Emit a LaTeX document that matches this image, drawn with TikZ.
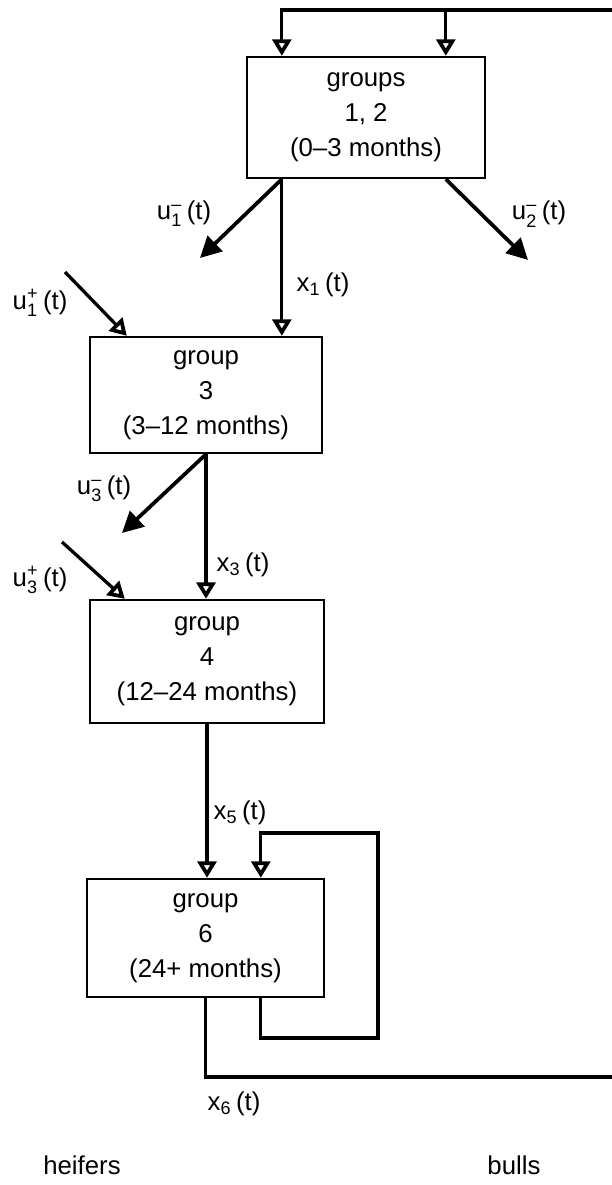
\documentclass[tikz,border=0pt]{standalone}
\usepackage{amsmath}
\usepackage{fontspec}
\setmainfont{Liberation Sans}
\usetikzlibrary{arrows.meta}
\usetikzlibrary{calc}
\usetikzlibrary{positioning}
\tikzstyle{block}    = [rectangle, draw, line width=1pt, align=center, inner sep=0pt, font=\fontsize{11}{15}\selectfont]
\tikzstyle{line}     = [draw, line width=1.4pt, -{Triangle[open, length=7pt, width=8pt, line width=1.6pt]}]
\tikzstyle{loss}     = [draw, line width=1.6pt, -{Triangle[length=9pt, width=9pt]}]
\tikzstyle{flow}     = [draw, line width=1.4pt]
\tikzstyle{lab}      = [inner sep=0pt, font=\fontsize{11}{13}\selectfont]
\newcommand{\ulab}[2]{u$_{\text{#1}}^{\text{#2}}$\,(t)}
\newcommand{\xlab}[1]{x$_{\text{#1}}$\,(t)}

\begin{document}
\begin{tikzpicture}[x=0.015cm, y=-0.015cm]
        \useasboundingbox (0,0) rectangle (612,1185);
        % age groups
        \node [block, minimum width=3.57cm, minimum height=1.815cm] (g12) at (366,117.5) {groups\\1, 2\\(0--3 months)};
        \node [block, minimum width=3.48cm, minimum height=1.74cm] (g3) at (206,395) {group\\3\\(3--12 months)};
        \node [block, minimum width=3.51cm, minimum height=1.845cm] (g4) at (207,661.5) {group\\4\\(12--24 months)};
        \node [block, minimum width=3.555cm, minimum height=1.77cm] (g6) at (205.5,938) {group\\6\\(24+ months)};
        % free ends
        \coordinate (rtop) at (612,10);
        \coordinate (rbot) at (612,1077);
        \coordinate (u1m) at (200,258);
        \coordinate (u2m) at (528,260);
        \coordinate (u1p) at (65,272);
        \coordinate (u3m) at (122,533);
        \coordinate (u3p) at (62,542);
        \coordinate (x1s) at ($(g12.south west)+(36,0)$);
        \coordinate (u2s) at ($(g12.south west)+(200,0)$);
        \coordinate (lp1) at (378,1038);
        \coordinate (lp2) at (378,833);
        % bulls back into groups 1, 2
        \path [line] (rtop) -| ($(g12.north west)+(36,0)$);
        \path [line] (rtop) -| ($(g12.north west)+(200,0)$);
        % flows
        \path [loss] (x1s) -- (u1m);
        \path [line] (x1s) -- (x1s |- g3.north);
        \path [loss] (u2s) -- (u2m);
        \path [line] (u1p) -- ($(g3.north west)+(38,0)$);
        \path [loss] (g3.south) -- (u3m);
        \path [line] (g3.south) -- (g3.south |- g4.north);
        \path [line] (u3p) -- ($(g4.north west)+(36,0)$);
        \path [line] (g4.south) -- (g4.south |- g6.north);
        \path [line] ($(g6.south west)+(175,0)$) |- (lp1) -- (lp2) -| ($(g6.north west)+(175,0)$);
        \path [flow] (g6.south) |- (rbot);
        % labels
        \node [lab] (l1) at (184,214) {\ulab{1}{--}};
        \node [lab] (l2) at (539,214) {\ulab{2}{--}};
        \node [lab] (l3) at (323,285) {\xlab{1}};
        \node [lab] (l4) at (40,303) {\ulab{1}{+}};
        \node [lab] (l5) at (104,489) {\ulab{3}{--}};
        \node [lab] (l6) at (243,565) {\xlab{3}};
        \node [lab] (l7) at (40,580) {\ulab{3}{+}};
        \node [lab] (l8) at (240,813) {\xlab{5}};
        \node [lab] (l9) at (234,1104) {\xlab{6}};
        \node [lab] (heifers) at (82,1165) {heifers};
        \node [lab] (bulls) at (514,1165) {bulls};
    \end{tikzpicture}
\end{document}
